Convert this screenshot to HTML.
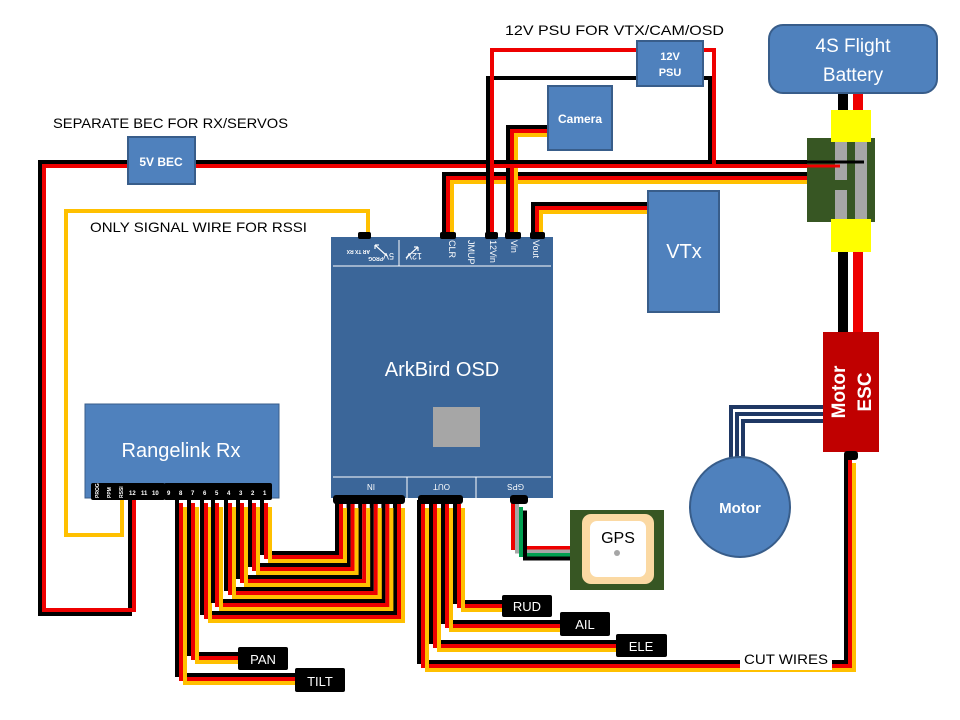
<!DOCTYPE html>
<html><head><meta charset="utf-8"><style>
html,body{margin:0;padding:0;background:#fff;}
svg{display:block;font-family:"Liberation Sans",sans-serif;}
</style></head><body>
<svg id="s" width="960" height="720" viewBox="0 0 960 720" xmlns="http://www.w3.org/2000/svg">
<rect width="960" height="720" fill="#fff"/>
<g id="wires" fill="none" stroke-width="4" stroke-linejoin="miter"></g>

<!-- BEC wire -->
<polyline points="130,500 130,614 40,614 40,162 865,162" fill="none" stroke="#000" stroke-width="4"/>
<polyline points="134,500 134,610 44,610 44,166 852,166" fill="none" stroke="#e00" stroke-width="4"/>
<!-- PSU wires -->
<polyline points="488,237 488,78 640,78" fill="none" stroke="#000" stroke-width="4"/>
<polyline points="492,237 492,50 640,50" fill="none" stroke="#e00" stroke-width="4"/>
<polyline points="700,78 710,78 710,162" fill="none" stroke="#000" stroke-width="4"/>
<polyline points="700,50 714,50 714,166" fill="none" stroke="#e00" stroke-width="4"/>
<!-- RSSI -->
<polyline points="368,236 368,211 66,211 66,535 122,535 122,498" fill="none" stroke="#ffc000" stroke-width="4"/>

<g id="cables" fill="none" stroke-width="4"></g>

<!-- motor wires -->
<g fill="none" stroke="#1f3864" stroke-width="4">
<polyline points="825,407 731,407 731,462"/>
<polyline points="825,414 737,414 737,460"/>
<polyline points="825,421 743,421 743,458"/>
</g>

<!-- battery -->
<rect x="838" y="92" width="10" height="30" fill="#000"/>
<rect x="853" y="92" width="10" height="30" fill="#e00"/>
<rect x="838" y="250" width="10" height="85" fill="#000"/>
<rect x="853" y="250" width="10" height="85" fill="#e00"/>
<rect x="769" y="25" width="168" height="68" rx="14" fill="#4f81bd" stroke="#385d8a" stroke-width="2"/>
<text x="853" y="52" font-size="19" fill="#fff" text-anchor="middle">4S Flight</text>
<text x="853" y="81" font-size="19" fill="#fff" text-anchor="middle">Battery</text>
<!-- connector -->
<rect x="807" y="138" width="68" height="84" fill="#375623"/>
<rect x="835" y="142" width="12" height="38" fill="#a6a6a6"/>
<rect x="835" y="190" width="12" height="32" fill="#a6a6a6"/>
<rect x="855" y="142" width="12" height="80" fill="#a6a6a6"/>
<line x1="780" y1="162" x2="864" y2="162" stroke="#000" stroke-width="3"/>
<line x1="780" y1="166" x2="840" y2="166" stroke="#e00" stroke-width="3"/>
<rect x="831" y="110" width="40" height="32" fill="#ffff00"/>
<rect x="831" y="219" width="40" height="33" fill="#ffff00"/>

<!-- ESC -->
<rect x="823" y="332" width="56" height="120" fill="#c00000"/>
<text transform="translate(845,392) rotate(-90)" font-size="19" font-weight="bold" fill="#fff" text-anchor="middle">Motor</text>
<text transform="translate(871,392) rotate(-90)" font-size="19" font-weight="bold" fill="#fff" text-anchor="middle">ESC</text>
<rect x="844" y="451" width="14" height="9" rx="3" fill="#000"/>

<!-- Motor -->
<circle cx="740" cy="507" r="50" fill="#4f81bd" stroke="#385d8a" stroke-width="2"/>
<text x="740" y="513" font-size="15" font-weight="bold" fill="#fff" text-anchor="middle">Motor</text>

<!-- boxes -->
<rect x="128" y="137" width="67" height="47" fill="#4f81bd" stroke="#385d8a" stroke-width="2"/>
<text x="161" y="166" font-size="12" font-weight="bold" fill="#fff" text-anchor="middle">5V BEC</text>
<rect x="637" y="41" width="66" height="45" fill="#4f81bd" stroke="#385d8a" stroke-width="2"/>
<text x="670" y="60" font-size="11" font-weight="bold" fill="#fff" text-anchor="middle">12V</text>
<text x="670" y="76" font-size="11" font-weight="bold" fill="#fff" text-anchor="middle">PSU</text>
<rect x="548" y="86" width="64" height="64" fill="#4f81bd" stroke="#385d8a" stroke-width="2"/>
<text x="580" y="123" font-size="12" font-weight="bold" fill="#fff" text-anchor="middle">Camera</text>
<rect x="648" y="191" width="71" height="121" fill="#4f81bd" stroke="#385d8a" stroke-width="2"/>
<text x="684" y="258" font-size="20" fill="#fff" text-anchor="middle">VTx</text>

<!-- OSD -->
<rect x="331" y="237" width="222" height="261" fill="#3b6699"/>
<line x1="333" y1="266" x2="551" y2="266" stroke="#fff" stroke-width="1"/>
<line x1="399" y1="240" x2="399" y2="266" stroke="#fff" stroke-width="1"/>
<line x1="333" y1="477" x2="551" y2="477" stroke="#fff" stroke-width="1"/>
<line x1="407" y1="477" x2="407" y2="498" stroke="#fff" stroke-width="1"/>
<line x1="476" y1="477" x2="476" y2="498" stroke="#fff" stroke-width="1"/>
<text x="442" y="376" font-size="20" fill="#fff" text-anchor="middle">ArkBird OSD</text>
<rect x="433" y="407" width="47" height="40" fill="#a6a6a6"/>
<g fill="#fff" font-size="9">
<text transform="translate(449,240) rotate(90)">CLR</text>
<text transform="translate(468,240) rotate(90)">JMUP</text>
<text transform="translate(490,240) rotate(90)">12Vin</text>
<text transform="translate(511,240) rotate(90)">Vin</text>
<text transform="translate(533,240) rotate(90)">Vout</text>
<text transform="translate(383,257) rotate(180)" font-size="5" font-weight="bold">PROG</text>
<text transform="translate(370,250) rotate(180)" font-size="5" font-weight="bold">AR TX RX</text>
<text transform="translate(394,253) rotate(180)" font-size="9">5V</text>
<text transform="translate(422,253) rotate(180)" font-size="9">12V</text>
<text transform="translate(375,484) rotate(180)" font-size="8">IN</text>
<text transform="translate(450,484) rotate(180)" font-size="8">OUT</text>
<text transform="translate(524,484) rotate(180)" font-size="8">GPS</text>
</g>
<g stroke="#fff" stroke-width="1.2">
<line x1="375" y1="245" x2="387" y2="256"/><line x1="375" y1="245" x2="379" y2="245"/><line x1="375" y1="245" x2="375" y2="249"/>
<line x1="406" y1="258" x2="418" y2="247"/><line x1="418" y1="247" x2="414" y2="247"/><line x1="418" y1="247" x2="418" y2="251"/>
</g>
<!-- OSD pin blocks -->
<g fill="#000">
<rect x="358" y="232" width="13" height="7" rx="2"/>
<rect x="440" y="232" width="16" height="7" rx="2"/>
<rect x="485" y="232" width="13" height="7" rx="2"/>
<rect x="505" y="232" width="16" height="7" rx="2"/>
<rect x="530" y="232" width="15" height="7" rx="2"/>
<rect x="333" y="495" width="72" height="9" rx="3"/>
<rect x="418" y="495" width="45" height="9" rx="3"/>
<rect x="510" y="495" width="18" height="9" rx="3"/>
</g>

<!-- Rx -->
<rect x="85" y="404" width="194" height="94" fill="#4f81bd" stroke="#385d8a" stroke-width="1"/>
<text x="181" y="457" font-size="20" fill="#fff" text-anchor="middle">Rangelink Rx</text>
<rect x="91" y="483" width="74" height="17" rx="2" fill="#000"/>
<rect x="164" y="483" width="108" height="17" rx="2" fill="#000"/>
<g fill="#fff" font-size="6" font-weight="bold">
<text transform="translate(99,498) rotate(-90)" font-size="5">PROG</text>
<text transform="translate(111,498) rotate(-90)" font-size="5">PPM</text>
<text transform="translate(123,498) rotate(-90)" font-size="5">RSSI</text>
<text x="129" y="495">12</text><text x="141" y="495">11</text><text x="152" y="495">10</text>
<text x="167" y="495">9</text><text x="179" y="495">8</text><text x="191" y="495">7</text><text x="203" y="495">6</text><text x="215" y="495">5</text><text x="227" y="495">4</text><text x="239" y="495">3</text><text x="251" y="495">2</text><text x="263" y="495">1</text>
</g>

<!-- GPS -->
<rect x="570" y="510" width="94" height="80" fill="#375623"/>
<rect x="582" y="514" width="72" height="70" rx="9" fill="#fbd9a3"/>
<rect x="590" y="521" width="56" height="56" rx="7" fill="#fff"/>
<text x="618" y="543" font-size="16" fill="#000" text-anchor="middle">GPS</text>
<circle cx="617" cy="553" r="3" fill="#a6a6a6"/>

<!-- labels -->
<g fill="#000" font-size="13">
<rect x="238" y="647" width="50" height="23" rx="2"/>
<rect x="295" y="668" width="50" height="24" rx="2"/>
<rect x="502" y="595" width="50" height="22" rx="2"/>
<rect x="560" y="612" width="50" height="24" rx="2"/>
<rect x="616" y="634" width="51" height="23" rx="2"/>
</g>
<g fill="#fff" font-size="13" text-anchor="middle">
<text x="263" y="664">PAN</text>
<text x="320" y="686">TILT</text>
<text x="527" y="611">RUD</text>
<text x="585" y="629">AIL</text>
<text x="641" y="651">ELE</text>
</g>
<rect x="740" y="648" width="92" height="22" fill="#fff"/>
<g fill="#000" font-size="14">
<text x="744" y="664" textLength="84" lengthAdjust="spacingAndGlyphs">CUT WIRES</text>
<text x="53" y="128" textLength="235" lengthAdjust="spacingAndGlyphs">SEPARATE BEC FOR RX/SERVOS</text>
<text x="505" y="35" textLength="219" lengthAdjust="spacingAndGlyphs">12V PSU FOR VTX/CAM/OSD</text>
<text x="90" y="232" textLength="217" lengthAdjust="spacingAndGlyphs">ONLY SIGNAL WIRE FOR RSSI</text>
</g>
</svg>
<script>
(function(){
var NS="http://www.w3.org/2000/svg";
var W=document.getElementById("wires"), C=document.getElementById("cables");
function cab(g,pts,cols,dx,dy){
 for(var i=0;i<cols.length;i++){
  var p=document.createElementNS(NS,"polyline");
  p.setAttribute("points",pts.map(function(q){return (q[0]+i*dx)+","+(q[1]+i*dy);}).join(" "));
  p.setAttribute("stroke",cols[i]);p.setAttribute("fill","none");p.setAttribute("stroke-width","4");
  g.appendChild(p);
 }
}
var BRY=["#000","#e00","#ffc000"];
// top cables
cab(W,[[807,174],[444,174],[444,237]],BRY,4,4);
cab(W,[[648,204],[533,204],[533,237]],BRY,4,4);
cab(W,[[548,127],[508,127],[508,237]],BRY,4,4);
// rx -> IN
var rx=[262,250,238,226,213,202];
for(var i=rx.length-1;i>=0;i--){
 var ix=337+11.6*i, y=553+12*i;
 cab(C,[[rx[i],499],[rx[i],y],[ix,y],[ix,500]],BRY,4,4);
}
cab(C,[[189,499],[189,654],[240,654]],BRY,4,4);
cab(C,[[177,499],[177,675],[296,675]],BRY,4,4);
// OUT
var ox=[455,443,431],oy=[602,622,642],oe=[503,561,617];
for(var j=0;j<3;j++) cab(C,[[ox[j],500],[ox[j],oy[j]],[oe[j],oy[j]]],BRY,4,4);
cab(C,[[419,500],[419,662],[846,662],[846,455]],BRY,4,4);
// GPS
cab(C,[[513,500],[513,548],[572,548]],["#e00","#a6a6a6","#00a050","#000"],4,3.5);
})();
</script>
</body></html>
